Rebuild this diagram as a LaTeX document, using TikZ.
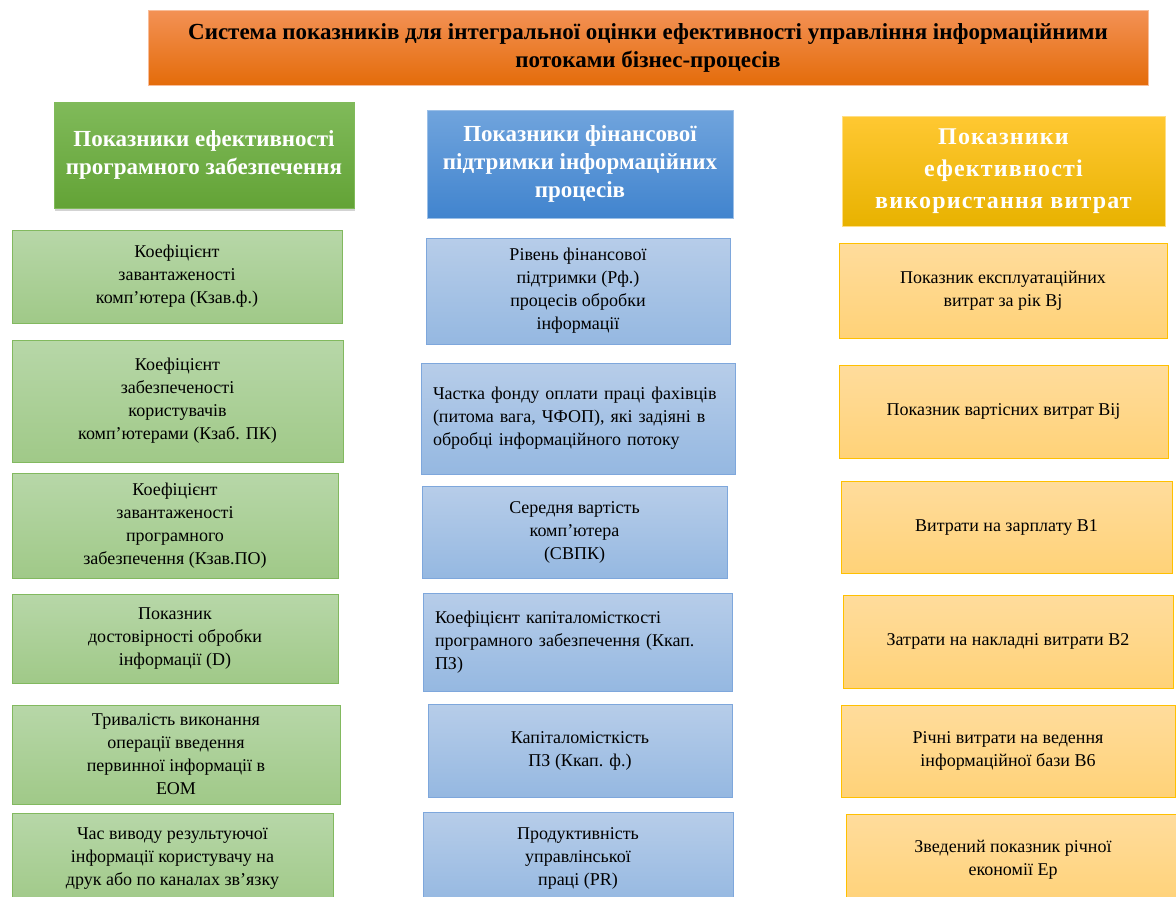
\documentclass[tikz,border=0pt]{standalone}
\usepackage{fontspec}
\setmainfont{Liberation Serif}
\usetikzlibrary{shadows}

\definecolor{orgtop}{RGB}{243,145,85}
\definecolor{orgbot}{RGB}{228,108,10}
\definecolor{hgtop}{RGB}{128,186,90}
\definecolor{hgbot}{RGB}{99,163,54}
\definecolor{hbtop}{RGB}{112,164,221}
\definecolor{hbbot}{RGB}{65,132,206}
\definecolor{hytop}{RGB}{255,200,50}
\definecolor{hybot}{RGB}{232,178,0}
\definecolor{grntop}{RGB}{183,215,168}
\definecolor{grnbot}{RGB}{160,201,136}
\definecolor{grnline}{RGB}{130,185,95}
\definecolor{blutop}{RGB}{183,205,233}
\definecolor{blubot}{RGB}{149,184,225}
\definecolor{bluline}{RGB}{126,167,220}
\definecolor{yeltop}{RGB}{255,220,156}
\definecolor{yelbot}{RGB}{255,210,120}
\definecolor{yelline}{RGB}{255,192,0}

\tikzset{
  box/.style={rectangle, inner sep=0pt, align=center, line width=0.8pt,
    font=\fontsize{18}{23}\selectfont},
  head/.style={box, text=white, font=\fontsize{23}{28}\selectfont\bfseries},
  gbox/.style={box, draw=grnline, top color=grntop, bottom color=grnbot},
  bbox/.style={box, draw=bluline, top color=blutop, bottom color=blubot},
  ybox/.style={box, draw=yelline, top color=yeltop, bottom color=yelbot},
}

\begin{document}
\begin{tikzpicture}[x=1pt,y=-1pt]
  \useasboundingbox (0,0) rectangle (1176,897);
  \clip (0,0) rectangle (1176,897);

  \node[box, draw=orgtop!60, top color=orgtop, bottom color=orgbot,
    minimum width=1000pt, minimum height=75pt,
    font=\fontsize{23}{28}\selectfont\bfseries] (title) at (648,47.5)
    {Система показників для інтегральної оцінки ефективності управління інформаційними\\потоками бізнес-процесів};

  \node[head, draw=hgtop, top color=hgtop, bottom color=hgbot,
    minimum width=300pt, minimum height=106pt,
    drop shadow={opacity=0.35, shadow xshift=1pt, shadow yshift=-3pt}] (hsoft) at (204,155)
    {Показники ефективності\\програмного забезпечення};
  \node[head, draw=hbtop!70, top color=hbtop, bottom color=hbbot,
    minimum width=306pt, minimum height=108pt] (hfin) at (580,164)
    {Показники фінансової\\підтримки інформаційних\\процесів};
  \node[head, draw=hytop!60, top color=hytop, bottom color=hybot,
    minimum width=323pt, minimum height=110pt,
    font=\fontsize{24}{32}\selectfont\bfseries\addfontfeatures{LetterSpace=5}] (hcost) at (1003.5,171)
    {Показники\\ефективності\\використання витрат};

  % column 1
  \node[gbox, minimum width=330pt, minimum height=93pt] (g1) at (177,276.5)
    {Коефіцієнт\\завантаженості\\комп’ютера (Кзав.ф.)};
  \node[gbox, minimum width=331pt, minimum height=122pt] (g2) at (177.5,401)
    {Коефіцієнт\\забезпеченості\\користувачів\\комп’ютерами (Кзаб. ПК)};
  \node[gbox, minimum width=326pt, minimum height=105pt] (g3) at (175,525.5)
    {Коефіцієнт\\завантаженості\\програмного\\забезпечення (Кзав.ПО)};
  \node[gbox, minimum width=326pt, minimum height=89pt] (g4) at (175,638.5)
    {Показник\\достовірності обробки\\інформації (D)};
  \node[gbox, minimum width=328pt, minimum height=99pt] (g5) at (176,754.5)
    {Тривалість виконання\\операції введення\\первинної інформації в\\ЕОМ};
  \node[gbox, minimum width=321pt, minimum height=92pt] (g6) at (172.5,859)
    {Час виводу результуючої\\інформації користувачу на\\друк або по каналах зв’язку};

  % column 2
  \node[bbox, minimum width=304pt, minimum height=106pt] (b1) at (578,291)
    {Рівень фінансової\\підтримки (Рф.)\\процесів обробки\\інформації};
  \node[bbox, minimum width=314pt, minimum height=111pt, text width=290pt, align=left] (b2) at (578,418.5)
    {Частка фонду оплати праці фахівців\\(питома вага, ЧФОП), які задіяні в\\обробці інформаційного потоку};
  \node[bbox, minimum width=305pt, minimum height=92pt] (b3) at (574.5,532)
    {Середня вартість\\комп’ютера\\(СВПК)};
  \node[bbox, minimum width=309pt, minimum height=98pt, text width=285pt, align=left] (b4) at (577.5,642)
    {Коефіцієнт капіталомісткості\\програмного забезпечення (Ккап.\\ПЗ)};
  \node[bbox, minimum width=304pt, minimum height=93pt] (b5) at (580,750.5)
    {Капіталомісткість\\ПЗ (Ккап. ф.)};
  \node[bbox, minimum width=310pt, minimum height=92pt] (b6) at (578,858)
    {Продуктивність\\управлінської\\праці (PR)};

  % column 3
  \node[ybox, minimum width=328pt, minimum height=95pt] (y1) at (1003,290.5)
    {Показник експлуатаційних\\витрат за рік Вј};
  \node[ybox, minimum width=329pt, minimum height=93pt] (y2) at (1003.5,411.5)
    {Показник вартісних витрат Віј};
  \node[ybox, minimum width=331pt, minimum height=92pt] (y3) at (1006.5,527)
    {Витрати на зарплату В1};
  \node[ybox, minimum width=330pt, minimum height=93pt] (y4) at (1008,641.5)
    {Затрати на накладні витрати В2};
  \node[ybox, minimum width=334pt, minimum height=92pt] (y5) at (1008,751)
    {Річні витрати на ведення\\інформаційної бази В6};
  \node[ybox, minimum width=334pt, minimum height=92pt] (y6) at (1013,860)
    {Зведений показник річної\\економії Ер};
\end{tikzpicture}
\end{document}
